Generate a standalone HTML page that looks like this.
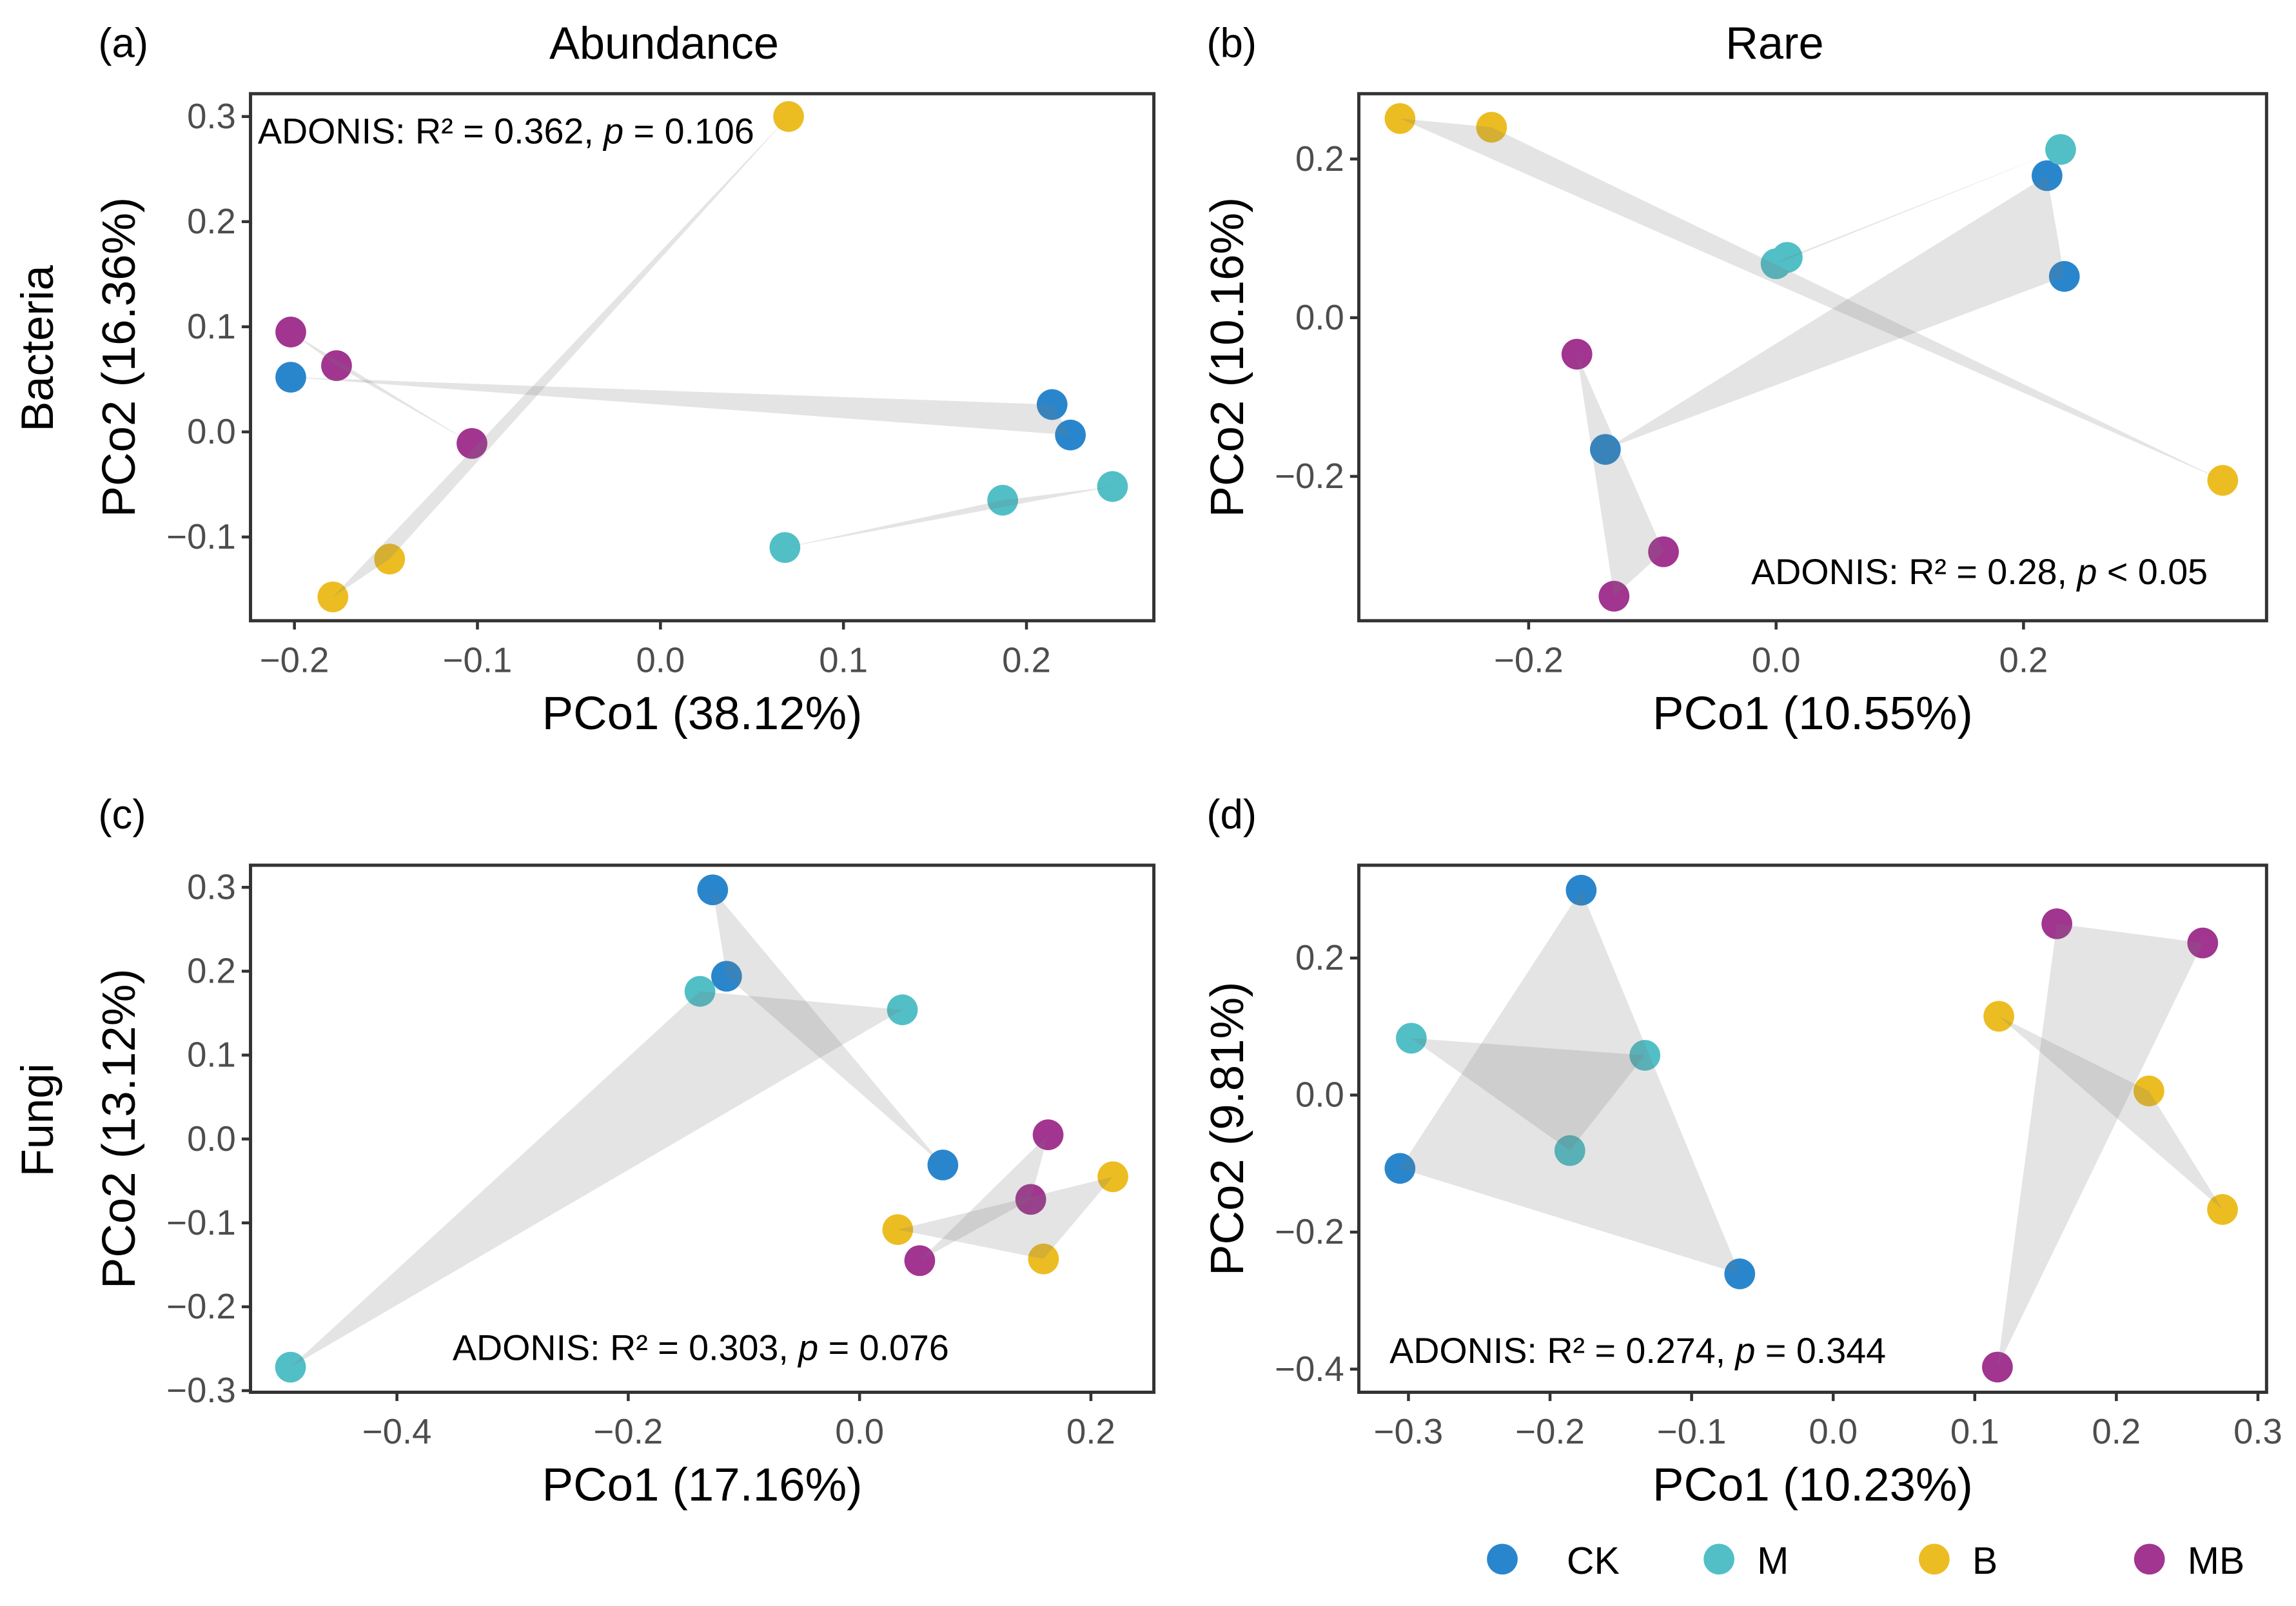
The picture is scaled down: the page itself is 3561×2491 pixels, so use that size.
<!DOCTYPE html>
<html><head><meta charset="utf-8"><style>
html,body{margin:0;padding:0;background:#fff;}
svg{display:block;font-family:"Liberation Sans",Arial,sans-serif;}
</style></head><body>
<svg id="chart" width="3561" height="2491" viewBox="0 0 1568 1097" xmlns="http://www.w3.org/2000/svg">
<rect width="1568" height="1097" fill="#fff"/>
</svg>
<script>
// Group order: CK, M, B, MB ; 3 samples each
const groups = ["CK","M","B","MB"];
const groupColors = ["#2a86cc","#52bfc6","#ecbd22","#a13590"];

// Panel a: Bacteria Abundance
const aX = [[-0.202,0.214,0.224],[0.068,0.187,0.247],[0.070,-0.148,-0.179],[-0.202,-0.177,-0.103]];
const aY = [[0.052,0.026,-0.003],[-0.110,-0.065,-0.052],[0.300,-0.121,-0.157],[0.095,0.063,-0.011]];
const aXTicks = [-0.2,-0.1,0.0,0.1,0.2];
const aYTicks = [0.3,0.2,0.1,0.0,-0.1];
// Panel b: Bacteria Rare
const bX = [[0.219,0.233,-0.138],[0.230,0.009,0.000],[-0.304,-0.230,0.361],[-0.161,-0.091,-0.131]];
const bY = [[0.179,0.052,-0.166],[0.212,0.076,0.068],[0.251,0.240,-0.205],[-0.046,-0.295,-0.351]];
const bXTicks = [-0.2,0.0,0.2];
const bYTicks = [0.2,0.0,-0.2];
// Panel c: Fungi Abundance
const cX = [[-0.127,-0.115,0.072],[-0.492,-0.138,0.037],[0.219,0.033,0.159],[0.163,0.148,0.052]];
const cY = [[0.297,0.194,-0.031],[-0.272,0.176,0.154],[-0.045,-0.108,-0.143],[0.005,-0.072,-0.145]];
const cXTicks = [-0.4,-0.2,0.0,0.2];
const cYTicks = [0.3,0.2,0.1,0.0,-0.1,-0.2,-0.3];
// Panel d: Fungi Rare
const dX = [[-0.178,-0.306,-0.066],[-0.298,-0.133,-0.186],[0.117,0.223,0.275],[0.158,0.261,0.116]];
const dY = [[0.299,-0.107,-0.261],[0.083,0.058,-0.081],[0.115,0.006,-0.167],[0.250,0.222,-0.397]];
const dXTicks = [-0.3,-0.2,-0.1,0.0,0.1,0.2,0.3];
const dYTicks = [0.2,0.0,-0.2,-0.4];

const NS = "http://www.w3.org/2000/svg";
const svg = document.getElementById("chart");
function mk(tag, attrs, parent, text){
  const e = document.createElementNS(NS, tag);
  for (const k in attrs) e.setAttribute(k, attrs[k]);
  if (text !== undefined) e.textContent = text;
  (parent||svg).appendChild(e);
  return e;
}
function fmt(v){ if (Math.abs(v)<1e-9) return "0.0"; const s=v.toFixed(1); return s.startsWith("-")?"\u2212"+s.slice(1):s; }

const panels = [
 {id:"a", tag:"(a)", title:"Abundance", row:"Bacteria", xs:aX, ys:aY, xt:aXTicks, yt:aYTicks,
  box:[171,64,788,424], x0:451, xk:1250, y0:295, yk:718, xlab:"PCo1 (38.12%)", ylab:"PCo2 (16.36%)",
  ad:["ADONIS: R\u00b2 = 0.362, ","p"," = 0.106"], adx:176, ady:98},
 {id:"b", tag:"(b)", title:"Rare", row:null, xs:bX, ys:bY, xt:bXTicks, yt:bYTicks,
  box:[928,64,1548,424], x0:1213, xk:845, y0:217, yk:542, xlab:"PCo1 (10.55%)", ylab:"PCo2 (10.16%)",
  ad:["ADONIS: R\u00b2 = 0.28, ","p"," < 0.05"], adx:1196, ady:399},
 {id:"c", tag:"(c)", title:null, row:"Fungi", xs:cX, ys:cY, xt:cXTicks, yt:cYTicks,
  box:[171,591,788,951], x0:587, xk:790, y0:778, yk:573, xlab:"PCo1 (17.16%)", ylab:"PCo2 (13.12%)",
  ad:["ADONIS: R\u00b2 = 0.303, ","p"," = 0.076"], adx:309, ady:929},
 {id:"d", tag:"(d)", title:null, row:null, xs:dX, ys:dY, xt:dXTicks, yt:dYTicks,
  box:[928,591,1548,951], x0:1252, xk:967, y0:748, yk:468, xlab:"PCo1 (10.23%)", ylab:"PCo2 (9.81%)",
  ad:["ADONIS: R\u00b2 = 0.274, ","p"," = 0.344"], adx:949, ady:931}
];

panels.forEach(p=>{
  const g = mk("g",{});
  
  
  const [L,T,R,B] = p.box;
  const sx = v => p.x0 + v*p.xk;
  const sy = v => p.y0 - v*p.yk;
  const lt = mk("text",{x:L-104,y:T-25,"font-size":28,fill:"#000"},g,p.tag);
  
  
  if (p.title){
    const t = mk("text",{x:(L+R)/2-26,y:T-24,"font-size":31,"text-anchor":"middle",fill:"#000"},g,p.title);
    
    
  }
  if (p.row){
    const cy=(T+B)/2-6;
    const t = mk("text",{x:25,y:cy,"font-size":31,"text-anchor":"middle",fill:"#000",transform:`rotate(-90 25 ${cy})`,dy:11},g,p.row);
    
    
  }
  p.xs.forEach((arr,gi)=>{
    arr.forEach((xv,i)=>{
      const c = mk("circle",{cx:sx(xv),cy:sy(p.ys[gi][i]),r:10.5,fill:groupColors[gi]},g);
      
      
    });
  });
  p.xs.forEach((arr,gi)=>{
    const pts = arr.map((xv,i)=>sx(xv)+","+sy(p.ys[gi][i])).join(" ");
    const h = mk("polygon",{points:pts,fill:"#7a7a7a","fill-opacity":0.2,stroke:"none"},g);
    
    
  });
  const fr = mk("rect",{x:L,y:T,width:R-L,height:B-T,fill:"none",stroke:"#333","stroke-width":2.2},g);
  
  
  p.xt.forEach(v=>{
    const x=sx(v);
    mk("line",{x1:x,x2:x,y1:B,y2:B+6,stroke:"#333","stroke-width":2},g);
    const t=mk("text",{x:x,y:B+35,"font-size":24,"text-anchor":"middle",fill:"#4d4d4d"},g,fmt(v));
    
    
  });
  p.yt.forEach(v=>{
    const y=sy(v);
    mk("line",{x1:L-6,x2:L,y1:y,y2:y,stroke:"#333","stroke-width":2},g);
    const t=mk("text",{x:L-10,y:y+8,"font-size":24,"text-anchor":"end",fill:"#4d4d4d"},g,fmt(v));
    
    
  });
  const xl=mk("text",{x:(L+R)/2,y:B+74,"font-size":32,"text-anchor":"middle",fill:"#000"},g,p.xlab);
  
  
  const cy=(T+B)/2, yx=L-90;
  const yl=mk("text",{x:yx,y:cy,"font-size":32,"text-anchor":"middle",fill:"#000",dy:11,transform:`rotate(-90 ${yx} ${cy})`},g,p.ylab);
  
  
  const ad=mk("text",{x:p.adx,y:p.ady,"font-size":24.5,fill:"#000"},g);
  
  
  mk("tspan",{},ad,p.ad[0]);
  mk("tspan",{"font-style":"italic"},ad,p.ad[1]);
  mk("tspan",{},ad,p.ad[2]);
});

const legX = [1026,1174,1321,1468];
const lg = mk("g",{});


groups.forEach((name,i)=>{
  const e = mk("g",{},lg);
  
  
  mk("circle",{cx:legX[i],cy:1065,r:10.5,fill:groupColors[i]},e);
  mk("text",{x:legX[i]+(i===0?44:26),y:1075,"font-size":26,fill:"#000"},e,name);
});
</script>
</body></html>
